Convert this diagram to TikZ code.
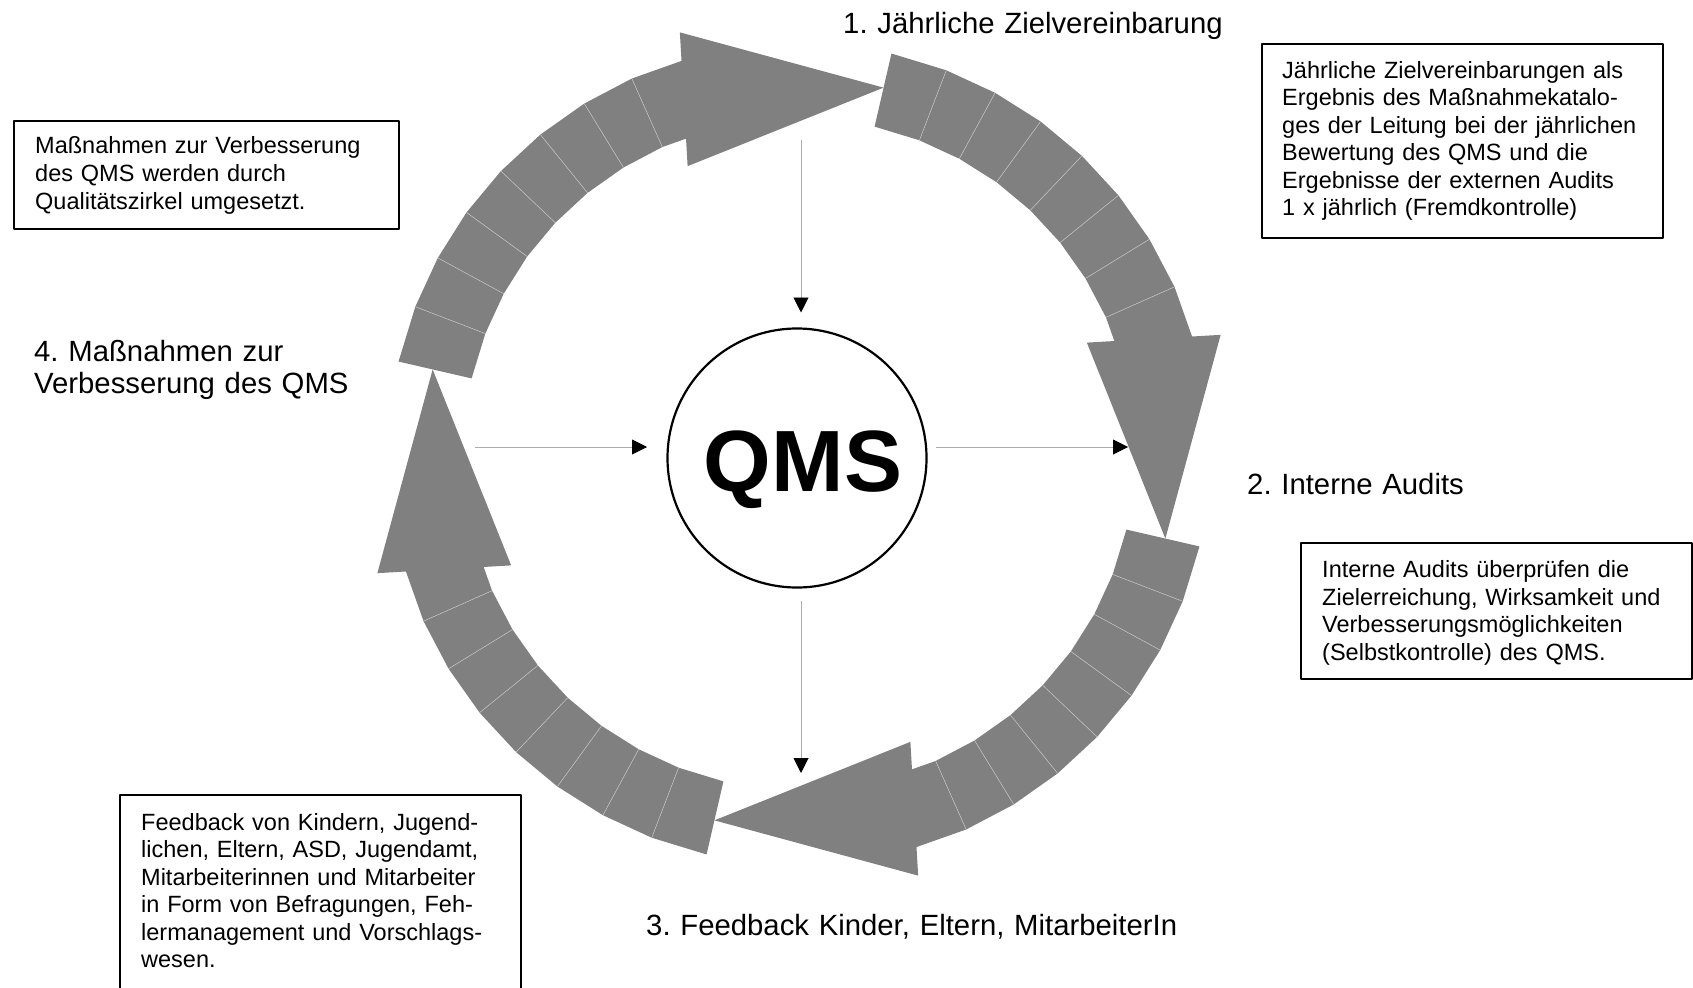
\documentclass[tikz,border=0pt]{standalone}
\usepackage{fontspec}
\setmainfont{Liberation Sans}
\usepackage{tikz}
\usetikzlibrary{arrows.meta,calc}
\frenchspacing

\begin{document}
\begin{tikzpicture}[x=1pt, y=1pt, line join=round,
	ring/.style={fill=gray},
	naht/.style={draw=gray!45, line width=0.5pt},
	duenn/.style={draw=gray!65, line width=0.9pt, -{Triangle[length=15pt, width=15pt, color=black]}},
	kasten/.style={draw, line width=1.6pt, inner sep=0pt, outer sep=0pt},
	kastentext/.style={anchor=base west, inner sep=0pt, align=left, text width=#1, font=\fontsize{23.5}{27.5}\selectfont},
	titel/.style={anchor=base west, inner sep=0pt, align=left, text width=#1, font=\fontsize{29.3}{32.5}\selectfont}]

\useasboundingbox (0,0) rectangle (1693,-987);
\clip (0,0) rectangle (1693,-987);

% Kreislauf aus vier Pfeilen
\begin{scope}[shift={(799,-454)}]
\foreach \t in {167,77,-13,-103}{
	\foreach \a/\b in {0/8,8/15.5,15.5/23,23/30.5,30.5/38,38/45.5,45.5/53,53/62}
		\fill[ring] (\t-\a:336) -- (\t-\a:411) -- (\t-\b:411) -- (\t-\b:336) -- cycle;
	\foreach \a in {8,15.5,23,30.5,38,45.5,53}
		\draw[naht] (\t-\a:336) -- (\t-\a:411);
	\coordinate (basis) at (\t-59:373);
	\coordinate (spitze) at (\t-90:376);
	\fill[ring] ($(basis)!67pt!90:(spitze)$) -- (spitze) -- ($(basis)!67pt!-90:(spitze)$) -- cycle;
}
\end{scope}

\node (qms) at (797,-458) [circle, draw, line width=2.2pt, minimum size=259pt, inner sep=0pt, outer sep=0pt, text height=67pt, text depth=0pt, font=\fontsize{87}{87}\selectfont\bfseries] {\kern12pt QMS};

\coordinate (einOben) at (801,-140);
\coordinate (einLinks) at (475,-447);
\coordinate (ausRechts) at (1128,-447);
\coordinate (ausUnten) at (801,-773);

\draw[duenn, shorten >=16pt] (einOben) -- (einOben |- qms.north);
\draw[duenn, shorten >=20.5pt] (einLinks) -- (einLinks -| qms.west);
\draw[duenn, shorten <=9.5pt] (ausRechts -| qms.east) -- (ausRechts);
\draw[duenn, shorten <=13.5pt] (ausUnten |- qms.south) -- (ausUnten);

\node (schritt1) at (843,-33.5) [titel=500pt] {1. Jährliche Zielvereinbarung};
\node (schritt2) at (1247,-494) [titel=300pt] {2. Interne Audits};
\node (schritt3) at (646,-935) [titel=600pt] {3. Feedback Kinder, Eltern, MitarbeiterIn};
\node (schritt4) at (34,-361) [titel=320pt] {4. Maßnahmen zur\\Verbesserung des QMS};

\node (kastenA) at (206.5,-175) [kasten, minimum width=385pt, minimum height=108pt] {};
\node (textA) at (35,-154) [kastentext=355pt] {Maßnahmen zur Verbesserung\\des QMS werden durch\\Qualitätszirkel umgesetzt.};

\node (kastenB) at (1462.5,-141) [kasten, minimum width=401pt, minimum height=194pt] {};
\node (textB) at (1282,-78.5) [kastentext=378pt] {Jährliche Zielvereinbarungen als\\Ergebnis des Maßnahmekatalo-\\ges der Leitung bei der jährlichen\\Bewertung des QMS und die\\Ergebnisse der externen Audits\\1 x jährlich (Fremdkontrolle)};

\node (kastenC) at (1496.5,-611) [kasten, minimum width=391pt, minimum height=136pt] {};
\node (textC) at (1322,-577.5) [kastentext=360pt] {Interne Audits überprüfen die\\Zielerreichung, Wirksamkeit und\\Verbesserungsmöglichkeiten\\(Selbstkontrolle) des QMS.};

\node (kastenD) at (320.5,-900) [kasten, minimum width=401pt, minimum height=210pt] {};
\node (textD) at (141,-830) [kastentext=370pt] {Feedback von Kindern, Jugend-\\lichen, Eltern, ASD, Jugendamt,\\Mitarbeiterinnen und Mitarbeiter\\in Form von Befragungen, Feh-\\lermanagement und Vorschlags-\\wesen.};

\end{tikzpicture}
\end{document}
